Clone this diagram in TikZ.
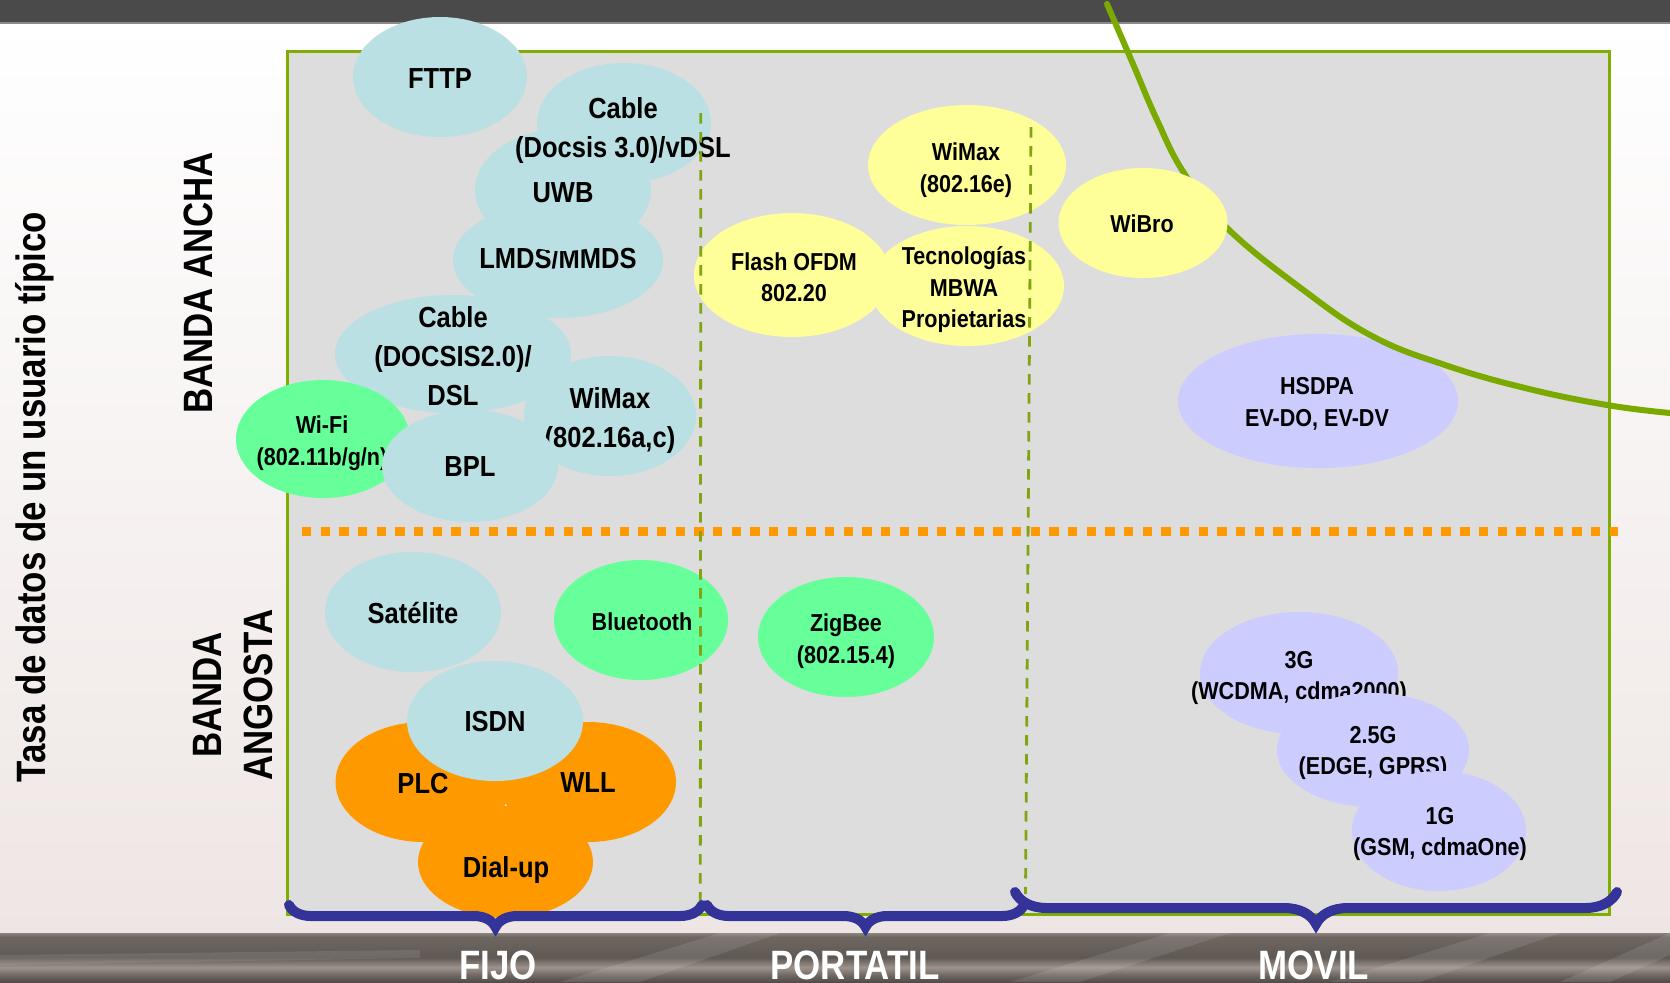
\documentclass[tikz,border=0pt]{standalone}
\usepackage{fontspec}
\usetikzlibrary{shapes.geometric,decorations.pathreplacing}
\newfontfamily\labfont[FakeStretch=0.88]{Liberation Sans}
\newfontfamily\axfont[FakeStretch=0.85]{Liberation Sans}
\definecolor{topbar}{HTML}{4A4A4A}
\definecolor{topedge}{HTML}{8A8A8A}
\definecolor{panel}{HTML}{DDDDDD}
\definecolor{bordergreen}{HTML}{80AE00}
\definecolor{curvegreen}{HTML}{7AAA00}
\definecolor{dashgreen}{HTML}{80A510}
\definecolor{lblue}{HTML}{BBE0E3}
\definecolor{mint}{HTML}{66FF99}
\definecolor{lyellow}{HTML}{FFFF99}
\definecolor{lav}{HTML}{CCCCFF}
\definecolor{orng}{HTML}{FF9900}
\definecolor{bracec}{HTML}{333399}
\definecolor{bgbot}{HTML}{EEE6E4}
\definecolor{bandedge}{HTML}{8C847E}
\definecolor{bandtop}{HTML}{6E6661}
\definecolor{banddark}{HTML}{5F5853}
\definecolor{bandlight}{HTML}{9D938C}
\definecolor{bandlo}{HTML}{6A625D}
\definecolor{bandbot}{HTML}{524B47}
\pgfdeclareverticalshading{bandshade}{100bp}{color(0bp)=(bandbot); color(25bp)=(bandbot); color(31bp)=(bandlo); color(40bp)=(bandlight); color(50bp)=(banddark); color(71bp)=(bandtop); color(75bp)=(bandedge); color(100bp)=(bandedge)}
\tikzset{
  blob/.style={ellipse, inner sep=0pt, draw=none},
  bigtxt/.style={font=\labfont\bfseries\fontsize{14.5}{19.5}\selectfont, align=center, inner sep=0pt},
  smalltxt/.style={font=\labfont\bfseries\fontsize{12.25}{15.75}\selectfont, align=center, inner sep=0pt},
  axlabel/.style={font=\axfont\bfseries\fontsize{20.5}{25.5}\selectfont, align=center, inner sep=0pt},
  botlabel/.style={font=\axfont\bfseries\fontsize{20.5}{25.5}\selectfont, text=white, inner sep=0pt, anchor=base},
  vdash/.style={draw=dashgreen, line width=1.4pt, dash pattern=on 5.25pt off 4.25pt},
  hdots/.style={draw=orng, line width=4.5pt, dash pattern=on 4.67pt off 4.67pt},
  bracepath/.style={draw=bracec, line width=5pt, line cap=round, decorate, decoration={brace, mirror, amplitude=#1}},
  curveline/.style={draw=curvegreen, line width=3pt, line cap=round},
  streak/.style={fill=white, opacity=0.10}
}
\begin{document}
\begin{tikzpicture}[x=0.5pt, y=-0.5pt]
\useasboundingbox (0,0) rectangle (1670,982);
% background
\shade[top color=white, bottom color=bgbot] (0,22) rectangle (1670,934);
\fill[topbar] (0,0) rectangle (1670,21.5);
\fill[topedge] (0,21.5) rectangle (1670,23.5);
\shade[shading=bandshade] (0,933) rectangle (1670,982);
\begin{scope}
  \clip (0,933) rectangle (1670,982);
  \fill[streak] (0,955) -- (420,950) -- (420,958) -- (0,965) -- cycle;
  \fill[streak] (560,982) -- (640,982) -- (780,933) -- (720,933) -- cycle;
  \fill[streak] (1010,982) -- (1080,982) -- (1230,933) -- (1170,933) -- cycle;
  \fill[streak] (1330,982) -- (1420,982) -- (1560,933) -- (1490,933) -- cycle;
  \fill[streak] (1560,982) -- (1610,982) -- (1670,955) -- (1670,933) -- cycle;
\end{scope}
% panel
\draw[fill=panel, draw=bordergreen, line width=1.5pt] (287.5,51.5) rectangle (1609.5,914);
% orange boundary
\coordinate (hl) at (302,531.5);
\coordinate (hr) at (1618,531.5);
\draw[hdots] (hl) -- (hr);
% --- fixed broadband
\node[blob, fill=lblue, minimum width=87pt, minimum height=60pt] (fttp) at (440,77) {};
\node[bigtxt] (fttpT) at (440,79) {FTTP};
\node[blob, fill=lblue, minimum width=105pt, minimum height=58pt] (lmds) at (558,260) {};
\node[bigtxt] (lmdsT) at (558,258) {LMDS/MMDS};
\node[blob, fill=lblue, minimum width=88pt, minimum height=61pt] (uwb) at (563,190) {};
\node[bigtxt] (uwbT) at (563,193) {UWB};
\node[blob, fill=lblue, minimum width=87pt, minimum height=60pt] (cab3) at (624,123) {};
\node[bigtxt] (cab3T) at (623,130) {Cable\\(Docsis 3.0)/vDSL};
\node[blob, fill=lblue, minimum width=118pt, minimum height=59pt] (cab2) at (453,354) {};
\node[bigtxt] (cab2T) at (453,356) {Cable\\(DOCSIS2.0)/\\DSL};
\node[blob, fill=lblue, minimum width=86pt, minimum height=60pt] (wmac) at (610,416) {};
\node[bigtxt] (wmacT) at (610,420) {WiMax\\(802.16a,c)};
\node[blob, fill=mint, minimum width=87pt, minimum height=59pt] (wifi) at (323,439) {};
\node[smalltxt] (wifiT) at (322,443) {Wi-Fi\\(802.11b/g/n)};
\node[blob, fill=lblue, minimum width=88pt, minimum height=56pt] (bpl) at (470,466) {};
\node[bigtxt] (bplT) at (470,467) {BPL};
% --- fixed narrowband
\node[blob, fill=lblue, minimum width=88pt, minimum height=60pt] (sat) at (413,612) {};
\node[bigtxt] (satT) at (413,613) {Satélite};
\node[blob, fill=mint, minimum width=87pt, minimum height=60pt] (bt) at (641,620) {};
\node[smalltxt] (btT) at (642,622) {Bluetooth};
\node[blob, fill=orng, minimum width=88pt, minimum height=60pt] (plc) at (423.5,782) {};
\node[bigtxt] (plcT) at (423,783) {PLC};
\node[blob, fill=orng, minimum width=88pt, minimum height=60pt] (wll) at (588,782) {};
\node[bigtxt] (wllT) at (588,783) {WLL};
\node[blob, fill=orng, minimum width=87.5pt, minimum height=56pt] (dial) at (505.5,862) {};
\node[bigtxt] (dialT) at (506,870) {Dial-up};
\node[blob, fill=lblue, minimum width=88pt, minimum height=60pt] (isdn) at (495,721) {};
\node[bigtxt] (isdnT) at (495,721) {ISDN};
% --- portable
\node[blob, fill=mint, minimum width=88pt, minimum height=60pt] (zig) at (846,637) {};
\node[smalltxt] (zigT) at (846,641) {ZigBee\\(802.15.4)};
\node[blob, fill=lyellow, minimum width=98pt, minimum height=62pt] (flash) at (792,275) {};
\node[smalltxt] (flashT) at (794,277) {Flash OFDM\\802.20};
\node[blob, fill=lyellow, minimum width=99pt, minimum height=60pt] (wme) at (967,165) {};
\node[smalltxt] (wmeT) at (966,170) {WiMax\\(802.16e)};
\node[blob, fill=lyellow, minimum width=97pt, minimum height=60pt] (tec) at (967,286) {};
\node[smalltxt] (tecT) at (964,290) {Tecnologías\\MBWA\\Propietarias};
% --- mobile
\node[blob, fill=lav, minimum width=140pt, minimum height=67pt] (hsdpa) at (1318,401) {};
\node[smalltxt] (hsdpaT) at (1317,404) {HSDPA\\EV-DO, EV-DV};
\draw[curveline] plot[smooth, tension=0.7] coordinates {(1107,4) (1133,64) (1157,120) (1184,173) (1226,227) (1302,289) (1372,336) (1445,365) (1525,388) (1607,405) (1670,413)};
\node[blob, fill=lyellow, minimum width=84.5pt, minimum height=55pt] (wibro) at (1143,223) {};
\node[smalltxt] (wibroT) at (1142,224) {WiBro};
\node[blob, fill=lav, minimum width=99pt, minimum height=61pt] (g3) at (1299,673) {};
\node[smalltxt] (g3T) at (1299,678) {3G\\(WCDMA, cdma2000)};
\node[blob, fill=lav, minimum width=96pt, minimum height=57pt] (g25) at (1373,750) {};
\node[smalltxt] (g25T) at (1373,753) {2.5G\\(EDGE, GPRS)};
\node[blob, fill=lav, minimum width=87pt, minimum height=60pt] (g1) at (1439,831) {};
\node[smalltxt] (g1T) at (1440,834) {1G\\(GSM, cdmaOne)};
% vertical dashed separators
\coordinate (v1t) at (700.8,113);
\coordinate (v1b) at (700.3,909);
\coordinate (v2t) at (1031,127);
\coordinate (v2b) at (1025.5,894);
\draw[vdash] (v1t) -- (v1b);
\draw[vdash] (v2t) -- (v2b);
% braces
\coordinate (b1a) at (289,905);
\coordinate (b1b) at (702,905);
\coordinate (b2a) at (707,905);
\coordinate (b2b) at (1024,905);
\coordinate (b3a) at (1015,892);
\coordinate (b3b) at (1617,892);
\draw[bracepath=11pt] (b1a) -- (b1b);
\draw[bracepath=11pt] (b2a) -- (b2b);
\draw[bracepath=16pt] (b3a) -- (b3b);
% labels
\node[axlabel, rotate=90, anchor=base] (tasa) at (45,497) {Tasa de datos de un usuario típico};
\node[axlabel, rotate=90, anchor=base] (ancha) at (212.5,283) {BANDA ANCHA};
\node[axlabel, rotate=90] (angosta) at (233.5,695) {BANDA\\ANGOSTA};
\node[botlabel] (fijo) at (498,979) {FIJO};
\node[botlabel] (portatil) at (855,979) {PORTATIL};
\node[botlabel] (movil) at (1314,979) {MOVIL};
\end{tikzpicture}
\end{document}
